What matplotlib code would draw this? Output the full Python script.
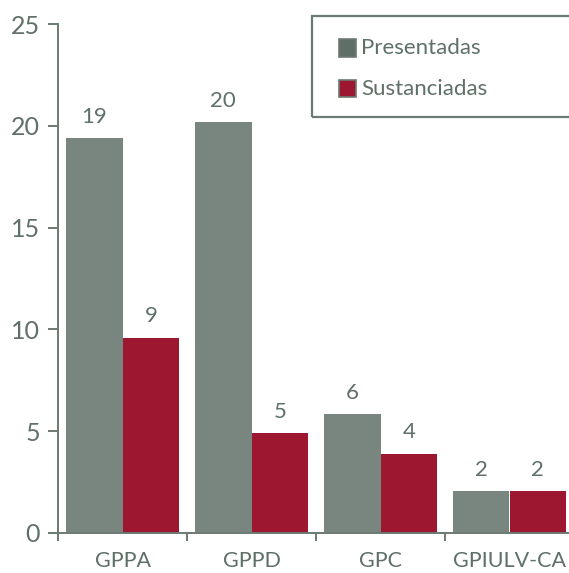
import numpy as np
import matplotlib.pyplot as plt
from matplotlib.patches import Rectangle

# Data
categories = ["GPPA", "GPPD", "GPC", "GPIULV-CA"]
series_names = ["Presentadas", "Sustanciadas"]
presentadas = [19.4, 20.2, 5.85, 2.05]
sustanciadas = [9.6, 4.9, 3.9, 2.05]
presentadas_labels = ["19", "20", "6", "2"]
sustanciadas_labels = ["9", "5", "4", "2"]
yticks = [0, 5, 10, 15, 20, 25]

gray = "#78867f"
red = "#9e1730"
text_col = "#5f7068"
line_col = "#6b7a72"

plt.rcParams['font.family'] = ['Lato', 'DejaVu Sans']

W, H = 569, 573
fig = plt.figure(figsize=(W / 100, H / 100), dpi=100)
ax = fig.add_axes([58 / W, 40 / H, 1 - 58 / W, 509 / H])

x = np.arange(len(categories))
w = 0.44
b1 = ax.bar(x - w / 2, presentadas, w, color=gray)
b2 = ax.bar(x + w / 2, sustanciadas, w, color=red)

ax.bar_label(b1, labels=presentadas_labels, padding=8, fontsize=16, color=text_col)
ax.bar_label(b2, labels=sustanciadas_labels, padding=8, fontsize=16, color=text_col)

ax.set_ylim(0, 25)
ax.set_xlim(-0.5, -0.5 + (W - 58) / 129)
ax.set_yticks(yticks)
ax.set_xticks(x)
ax.set_xticklabels(categories)
ax.set_xticks(np.arange(len(categories)) - 0.5, minor=True)

for s in ["top", "right"]:
    ax.spines[s].set_visible(False)
for s in ["left", "bottom"]:
    ax.spines[s].set_color(line_col)
    ax.spines[s].set_linewidth(1.4)

ax.tick_params(axis="y", length=7, width=1.4, color=line_col, labelcolor=text_col,
               labelsize=18, pad=6)
ax.tick_params(axis="x", which="major", length=0, labelcolor=text_col,
               labelsize=15.5, pad=13)
ax.tick_params(axis="x", which="minor", length=6, width=1.4, color=line_col)

# legend box running off the right edge
fig.patches.append(Rectangle((312 / W, 1 - 117 / H), 0.5, 101 / H,
                             transform=fig.transFigure, fill=False,
                             edgecolor=line_col, linewidth=1.6, clip_on=False))
legend_colors = ["#5f6e66", red]
for i, (name, col) in enumerate(zip(series_names, legend_colors)):
    yc = 1 - (48 + 41 * i) / H
    fig.patches.append(Rectangle((339 / W, yc - 8.5 / H), 17 / W, 17 / H,
                                 transform=fig.transFigure, facecolor=col,
                                 edgecolor="#6b7a72", linewidth=1.2))
    fig.text(361 / W, yc, name, fontsize=16, color=text_col, va="center", ha="left")

plt.savefig("out.png", dpi=100)
